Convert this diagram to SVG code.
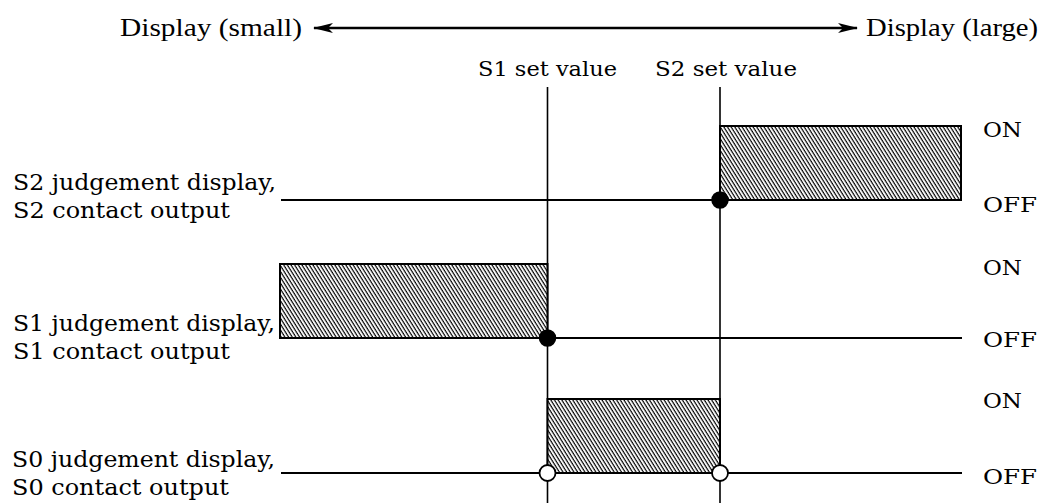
<svg xmlns="http://www.w3.org/2000/svg" width="1041" height="503" viewBox="0 0 1041 503">
<style>
.hdr{font-family:"Liberation Serif","Times New Roman",serif;font-size:26px;fill:#000}
.lbl{font-family:"DejaVu Serif","Liberation Serif",serif;font-size:23px;fill:#000}
.st{font-family:"DejaVu Serif","Liberation Serif",serif;font-size:21px;fill:#000}
.ln{stroke:#000;stroke-width:2;fill:none}
.ar{stroke:#000;stroke-width:2.5;fill:none}
.vl{stroke:#000;stroke-width:1.6;fill:none}
.box{stroke:#000;stroke-width:2;fill:url(#hatch)}
.dot{fill:#000;stroke:#000;stroke-width:1.5}
.odot{fill:#fff;stroke:#000;stroke-width:1.8}
</style>
<defs>
<pattern id="hatch" patternUnits="userSpaceOnUse" width="3.1" height="10" patternTransform="rotate(-32)">
<rect width="3.1" height="10" fill="#fff"/>
<line x1="1" y1="0" x2="1" y2="10" stroke="#000" stroke-width="1.2"/>
</pattern>
<marker id="ah" viewBox="0 0 20 10" refX="19" refY="5" markerWidth="20" markerHeight="10" markerUnits="userSpaceOnUse" orient="auto-start-reverse">
<path d="M0,0 L20,5 L0,10 L5,5 Z" fill="#000"/>
</marker>
</defs>
<g id="header">
<text class="hdr" x="120" y="36" textLength="182" lengthAdjust="spacingAndGlyphs">Display (small)</text>
<text class="hdr" x="866" y="36" textLength="172" lengthAdjust="spacingAndGlyphs">Display (large)</text>
<text class="st" x="478" y="76" textLength="139" lengthAdjust="spacingAndGlyphs">S1 set value</text>
<text class="st" x="655" y="76" textLength="142" lengthAdjust="spacingAndGlyphs">S2 set value</text>
</g>
<g id="connectors">
<line class="ar" x1="314" y1="28" x2="857" y2="28" marker-start="url(#ah)" marker-end="url(#ah)"/>
<line class="vl" x1="547.5" y1="87" x2="547.5" y2="503"/>
<line class="vl" x1="720" y1="87" x2="720" y2="503"/>
<line class="ln" x1="281" y1="200" x2="720" y2="200"/>
<line class="ln" x1="547.5" y1="338" x2="962" y2="338"/>
<line class="ln" x1="281" y1="473" x2="962" y2="473"/>
</g>
<g id="s2">
<text class="lbl" x="13" y="190" textLength="263" lengthAdjust="spacingAndGlyphs">S2 judgement display,</text>
<text class="lbl" x="13" y="218" textLength="217" lengthAdjust="spacingAndGlyphs">S2 contact output</text>
<rect class="box" x="720" y="126" width="241" height="74"/>
<circle class="dot" cx="720" cy="200" r="8"/>
<text class="st" x="983" y="137" textLength="39" lengthAdjust="spacingAndGlyphs">ON</text>
<text class="st" x="983" y="212" textLength="54" lengthAdjust="spacingAndGlyphs">OFF</text>
</g>
<g id="s1">
<text class="lbl" x="13" y="331" textLength="262" lengthAdjust="spacingAndGlyphs">S1 judgement display,</text>
<text class="lbl" x="13" y="359" textLength="217" lengthAdjust="spacingAndGlyphs">S1 contact output</text>
<rect class="box" x="280" y="264" width="267.5" height="74"/>
<circle class="dot" cx="547.5" cy="338" r="8"/>
<text class="st" x="983" y="275" textLength="39" lengthAdjust="spacingAndGlyphs">ON</text>
<text class="st" x="983" y="347" textLength="54" lengthAdjust="spacingAndGlyphs">OFF</text>
</g>
<g id="s0">
<text class="lbl" x="12" y="467" textLength="263" lengthAdjust="spacingAndGlyphs">S0 judgement display,</text>
<text class="lbl" x="12" y="495" textLength="217" lengthAdjust="spacingAndGlyphs">S0 contact output</text>
<rect class="box" x="547.5" y="399" width="172.5" height="74"/>
<circle class="odot" cx="547.5" cy="473" r="8"/>
<circle class="odot" cx="720" cy="473" r="8"/>
<text class="st" x="983" y="408" textLength="39" lengthAdjust="spacingAndGlyphs">ON</text>
<text class="st" x="983" y="484" textLength="54" lengthAdjust="spacingAndGlyphs">OFF</text>
</g>
</svg>
